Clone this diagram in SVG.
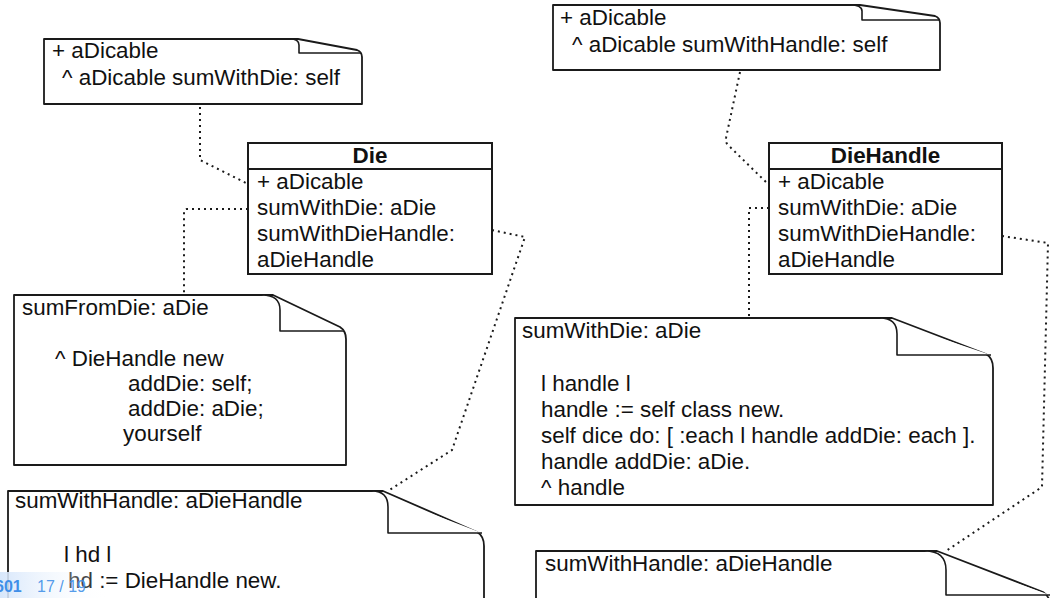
<svg xmlns="http://www.w3.org/2000/svg" width="1052" height="598" viewBox="0 0 1052 598">
<defs>
<style>
.t{font-family:"Liberation Sans",Arial,Helvetica,sans-serif;font-size:22.4px;fill:#111}
.b{font-weight:bold}
.box{fill:#fff;stroke:#1a1a1a;stroke-width:2}
.note{fill:#fff;stroke:#1a1a1a;stroke-width:1.8;stroke-linejoin:round}
.flap{fill:#fff;stroke:#1a1a1a;stroke-width:1.6;stroke-linejoin:round}
.conn{fill:none;stroke:#1a1a1a;stroke-width:2;stroke-dasharray:2 4}
.foot{font-family:"Liberation Sans",Arial,Helvetica,sans-serif;font-size:16px;fill:#3f8fe8}
</style>
<linearGradient id="fg" x1="0" y1="0" x2="1" y2="0">
<stop offset="0" stop-color="#d6e6fb" stop-opacity="0.95"/>
<stop offset="1" stop-color="#ffffff" stop-opacity="0"/>
</linearGradient>
</defs>
<rect width="1052" height="598" fill="#fff"/>

<g id="connectors">
<path class="conn" d="M200,107 V160 L248,184"/>
<path class="conn" d="M248,209 H187 Q184,209 184,212 V295"/>
<path class="conn" d="M492,230 L525,237 L452,450 L388,491"/>
<path class="conn" d="M740,72 L726,138 Q725,142 728,145 L769,185"/>
<path class="conn" d="M769,208 H749 V318"/>
<path class="conn" d="M1002,236 L1048,243 L1042,487 L946,551"/>
</g>

<g id="note-die-plus">
<path class="note" d="M44,39 H298 L357,50 Q362,52 362,57 V104 H44 Z"/>
<path class="flap" d="M290,39 Q299,39 299,45 V53 H361"/>
<text class="t" x="52" y="58">+ aDicable</text>
<text class="t" x="62" y="85">^ aDicable sumWithDie: self</text>
</g>

<g id="class-die">
<rect class="box" x="248" y="143" width="244" height="131"/>
<line class="box" x1="248" y1="169" x2="492" y2="169"/>
<text class="t b" x="370" y="163" text-anchor="middle">Die</text>
<text class="t" x="257" y="189">+ aDicable</text>
<text class="t" x="257" y="215">sumWithDie: aDie</text>
<text class="t" x="257" y="241">sumWithDieHandle:</text>
<text class="t" x="257" y="267">aDieHandle</text>
</g>

<g id="note-sumFromDie">
<path class="note" d="M14,295 H273 L340,327 Q346,331 346,339 V465 H14 Z"/>
<path class="flap" d="M262,295 Q280,295 280,310 V331 H344"/>
<text class="t" x="22" y="315">sumFromDie: aDie</text>
<text class="t" x="55" y="366">^ DieHandle new</text>
<text class="t" x="128" y="391">addDie: self;</text>
<text class="t" x="128" y="416">addDie: aDie;</text>
<text class="t" x="123" y="441">yourself</text>
</g>

<g id="note-die-sumWithHandle">
<path class="note" d="M8,491 H383 L477,532 Q484,536 484,546 V620 H8 Z"/>
<path class="flap" d="M372,491 Q388,491 388,507 V533 H482"/>
<text class="t" x="15" y="508">sumWithHandle: aDieHandle</text>
<text class="t" x="64" y="562">l hd l</text>
<text class="t" x="68" y="588">hd := DieHandle new.</text>
</g>

<g id="note-handle-plus">
<path class="note" d="M553,5 H860 L935,16 Q940,18 940,23 V70 H553 Z"/>
<path class="flap" d="M850,5 Q862,5 862,11 V20 H939"/>
<text class="t" x="560" y="25">+ aDicable</text>
<text class="t" x="572" y="52">^ aDicable sumWithHandle: self</text>
</g>

<g id="class-diehandle">
<rect class="box" x="769" y="143" width="233" height="131"/>
<line class="box" x1="769" y1="169" x2="1002" y2="169"/>
<text class="t b" x="885.5" y="163" text-anchor="middle">DieHandle</text>
<text class="t" x="778" y="189">+ aDicable</text>
<text class="t" x="778" y="215">sumWithDie: aDie</text>
<text class="t" x="778" y="241">sumWithDieHandle:</text>
<text class="t" x="778" y="267">aDieHandle</text>
</g>

<g id="note-handle-sumWithDie">
<path class="note" d="M515,318 H892 L986,354 Q993,358 993,368 V505 H515 Z"/>
<path class="flap" d="M880,318 Q897,318 897,334 V355 H991"/>
<text class="t" x="522" y="338">sumWithDie: aDie</text>
<text class="t" x="541" y="391">l handle l</text>
<text class="t" x="541" y="417">handle := self class new.</text>
<text class="t" x="541" y="443">self dice do: [ :each l handle addDie: each ].</text>
<text class="t" x="541" y="469">handle addDie: aDie.</text>
<text class="t" x="541" y="495">^ handle</text>
</g>

<g id="note-handle-sumWithHandle">
<path class="note" d="M536,551 H937 L1043,592 Q1050,596 1050,606 V640 H536 Z"/>
<path class="flap" d="M925,551 Q946,551 946,570 V595 H1050"/>
<text class="t" x="545" y="571">sumWithHandle: aDieHandle</text>
</g>

<g id="footer">
<rect x="0" y="572" width="110" height="26" fill="url(#fg)"/>
<text class="foot b" x="-5" y="592">601</text>
<text class="foot" x="37" y="592" fill-opacity="0.9">17 / 19</text>
</g>
</svg>
